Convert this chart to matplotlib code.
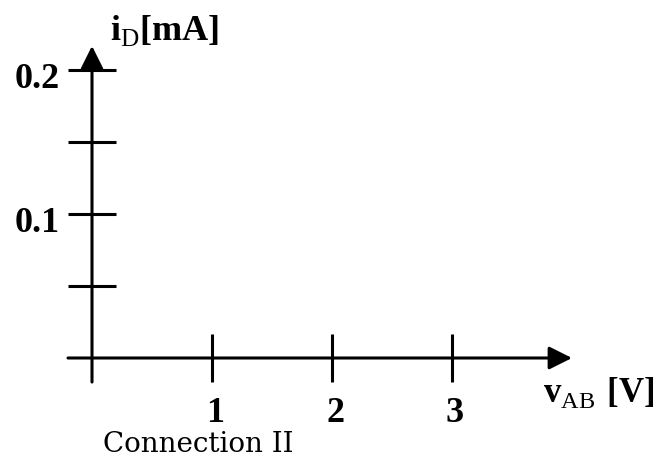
import matplotlib.pyplot as plt

# 坐标轴刻度 (仅刻度, 没有数据曲线)
x_ticks = [1, 2, 3]
x_tick_labels = ['1', '2', '3']
y_ticks = [0.05, 0.1, 0.15, 0.2]
y_labeled = [0.1, 0.2]
y_tick_labels = ['0.1', '0.2']
caption = 'Connection II'

plt.rcParams['font.family'] = ['Liberation Serif', 'DejaVu Serif']
plt.rcParams['mathtext.fontset'] = 'custom'
plt.rcParams['mathtext.rm'] = 'Liberation Serif'
plt.rcParams['mathtext.bf'] = 'Liberation Serif:bold'

fig = plt.figure(figsize=(6.71, 4.59), dpi=100)
ax = fig.add_axes([0, 0, 1, 1])
# 120 px per volt, 1440 px per mA, origin at pixel (92, 358)
ax.set_xlim(-92 / 120, (671 - 92) / 120)
ax.set_ylim(-(459 - 358) / 1440, 358 / 1440)
ax.axis('off')

lw = 2.2
arrow = dict(arrowstyle='-|>,head_length=1.4,head_width=0.7', mutation_scale=10,
             color='black', lw=lw, shrinkA=0, shrinkB=0)

# 坐标轴 + 箭头
ax.annotate('', xy=(4.0, 0), xytext=(-0.2, 0), arrowprops=arrow)
ax.annotate('', xy=(0, 0.2167), xytext=(0, -0.0167), arrowprops=arrow)

# 刻度线
ax.vlines(x_ticks, -0.0167, 0.0167, color='black', lw=lw)
ax.hlines(y_ticks, -0.2, 0.2, color='black', lw=lw)

# 刻度标签
for x, lab in zip(x_ticks, x_tick_labels):
    ax.text(x + 0.025, -0.0444, lab, ha='center', va='baseline',
            fontsize=26, fontweight='bold')
for y, lab in zip(y_labeled, y_tick_labels):
    ax.text(-0.267, y - 0.0125, lab, ha='right', va='baseline',
            fontsize=26, fontweight='bold')

# 轴标题
ax.text(3.758, -0.0306, r'$\mathbf{v}_{\mathrm{AB}}\ \mathbf{[V]}$',
        ha='left', va='baseline', fontsize=25)
ax.text(0.15, 0.2208, r'$\mathbf{i}_{\mathrm{D}}\mathbf{[mA]}$',
        ha='left', va='baseline', fontsize=26)

# 图注 (贴近底边, 留出下伸部分的空间)
ax.text(0.0917, -0.0653, caption, ha='left', va='baseline', fontsize=20,
        family='DejaVu Serif')

fig.savefig('out.png', dpi=100)
